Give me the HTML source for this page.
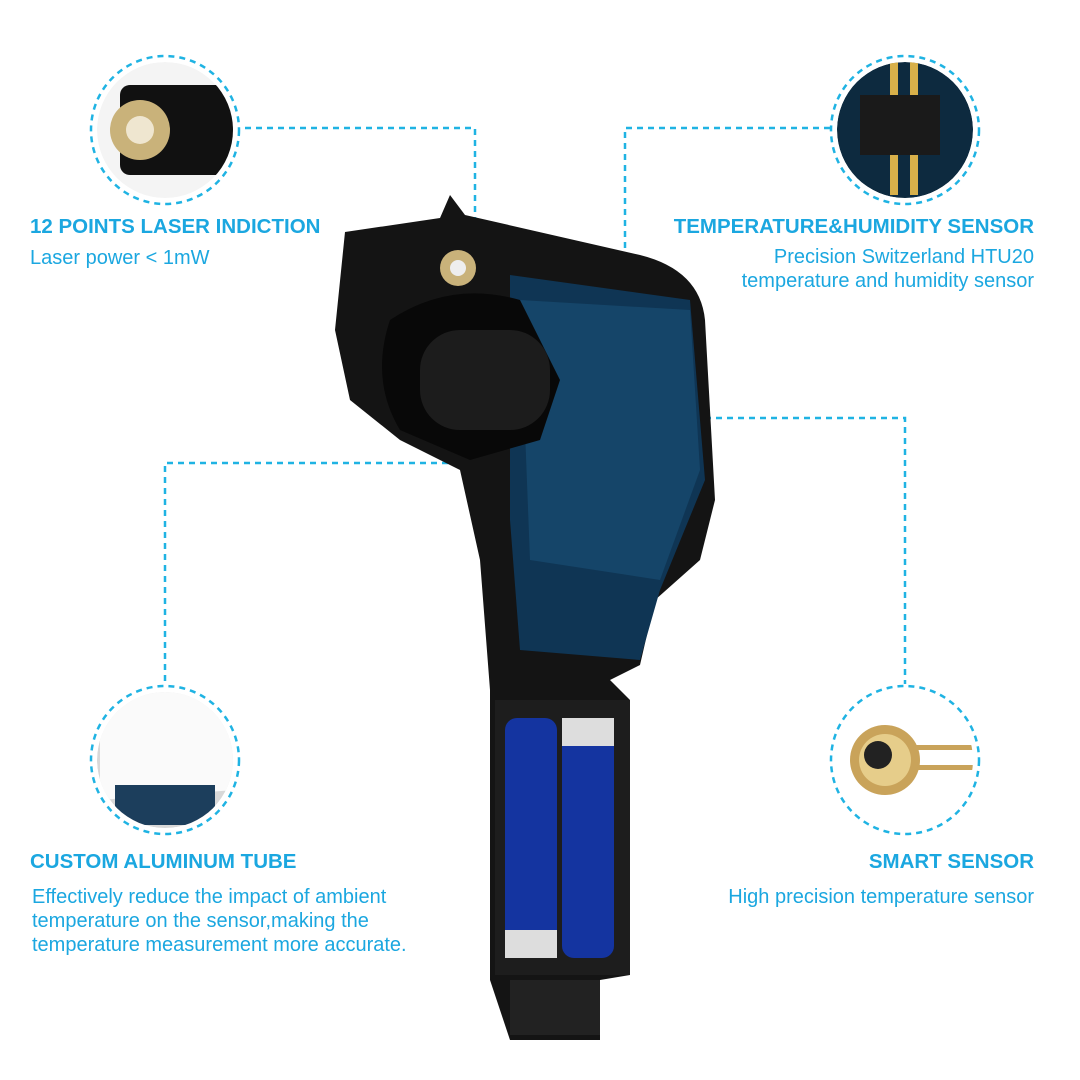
<!DOCTYPE html>
<html><head><meta charset="utf-8"><style>
html,body{margin:0;padding:0;background:#fff}
body{width:1080px;height:1080px;position:relative;overflow:hidden;font-family:"Liberation Sans",sans-serif}
.t{position:absolute;color:#1ba7e0;white-space:nowrap}
.h{font-weight:bold;font-size:20.5px}
.s{font-size:20px;line-height:24px}
</style></head><body>
<svg width="1080" height="1080" style="position:absolute;left:0;top:0">
<defs>
<clipPath id="c1"><circle cx="165" cy="130" r="68"/></clipPath>
<clipPath id="c2"><circle cx="905" cy="130" r="68"/></clipPath>
<clipPath id="c3"><circle cx="165" cy="760" r="68"/></clipPath>
<clipPath id="c4"><circle cx="905" cy="760" r="68"/></clipPath>
</defs>
<g fill="none" stroke="#1fb3e3" stroke-width="2.5" stroke-dasharray="6,5">
<circle cx="165" cy="130" r="74"/><circle cx="905" cy="130" r="74"/>
<circle cx="165" cy="760" r="74"/><circle cx="905" cy="760" r="74"/>
<polyline points="245,128 475,128 475,262"/>
<polyline points="830,128 625,128 625,300"/>
<polyline points="595,418 905,418 905,684"/>
<polyline points="580,463 165,463 165,684"/>
</g>
<g clip-path="url(#c1)">
<circle cx="165" cy="130" r="68" fill="#f4f4f4"/>
<rect x="120" y="85" width="120" height="90" rx="10" fill="#111"/>
<circle cx="140" cy="130" r="30" fill="#c9b27a"/><circle cx="140" cy="130" r="14" fill="#efe6d0"/>
</g>
<g clip-path="url(#c2)">
<circle cx="905" cy="130" r="68" fill="#0d2a3f"/>
<rect x="860" y="95" width="80" height="60" fill="#1a1a1a"/>
<rect x="890" y="55" width="8" height="40" fill="#d8b04a"/><rect x="910" y="55" width="8" height="40" fill="#d8b04a"/>
<rect x="890" y="155" width="8" height="40" fill="#d8b04a"/><rect x="910" y="155" width="8" height="40" fill="#d8b04a"/>
</g>
<g clip-path="url(#c3)">
<circle cx="165" cy="760" r="68" fill="#d8d8d8"/>
<path d="M100 690 Q200 680 235 720 L235 790 L100 800Z" fill="#fafafa"/>
<rect x="115" y="785" width="100" height="40" fill="#1c3e5c"/>
</g>
<g clip-path="url(#c4)">
<circle cx="905" cy="760" r="68" fill="#fff"/>
<circle cx="885" cy="760" r="35" fill="#c9a35a"/><circle cx="885" cy="760" r="26" fill="#e6cd8a"/>
<circle cx="878" cy="755" r="14" fill="#222"/>
<rect x="915" y="745" width="60" height="5" fill="#c9a35a"/><rect x="915" y="765" width="60" height="5" fill="#c9a35a"/>
</g>
<!-- device -->
<path d="M345 232 L440 218 L450 195 L465 215 L640 255 Q700 270 705 320 L715 500 L700 560 L655 600 L640 665 L610 680 L630 700 L630 975 L600 980 L600 1040 L510 1040 L490 980 L490 690 L480 560 L460 470 L400 440 L350 400 L335 330Z" fill="#141414"/>
<path d="M510 275 L690 300 L705 480 L660 590 L640 660 L520 650 L510 520Z" fill="#0f3554"/>
<path d="M520 300 L690 310 L700 470 L660 580 L530 560Z" fill="#174a6e" opacity=".8"/>
<path d="M390 320 Q450 280 520 300 L560 380 L540 440 L470 460 L400 430 Q370 380 390 320Z" fill="#080808"/>
<rect x="420" y="330" width="130" height="100" rx="40" fill="#1c1c1c"/>
<circle cx="458" cy="268" r="18" fill="#c9b27a"/><circle cx="458" cy="268" r="8" fill="#eee"/>
<rect x="495" y="700" width="135" height="275" fill="#1d1d1d"/>
<rect x="505" y="718" width="52" height="240" rx="12" fill="#1434a0"/>
<rect x="562" y="718" width="52" height="240" rx="12" fill="#1434a0"/>
<rect x="505" y="930" width="52" height="28" fill="#ddd"/><rect x="562" y="718" width="52" height="28" fill="#ddd"/>
<rect x="510" y="980" width="90" height="55" fill="#222"/>
</svg>
<div class="t h" style="left:30px;top:215px">12 POINTS LASER INDICTION</div>
<div class="t s" style="left:30px;top:246px">Laser power &lt; 1mW</div>
<div class="t h" style="right:46px;top:215px">TEMPERATURE&amp;HUMIDITY SENSOR</div>
<div class="t s" style="right:46px;top:245px;text-align:right">Precision Switzerland HTU20<br>temperature and humidity sensor</div>
<div class="t h" style="left:30px;top:850px">CUSTOM ALUMINUM TUBE</div>
<div class="t s" style="left:32px;top:885px">Effectively reduce the impact of ambient<br>temperature on the sensor,making the<br>temperature measurement more accurate.</div>
<div class="t h" style="right:46px;top:850px">SMART SENSOR</div>
<div class="t s" style="right:46px;top:885px">High precision temperature sensor</div>
</body></html>
